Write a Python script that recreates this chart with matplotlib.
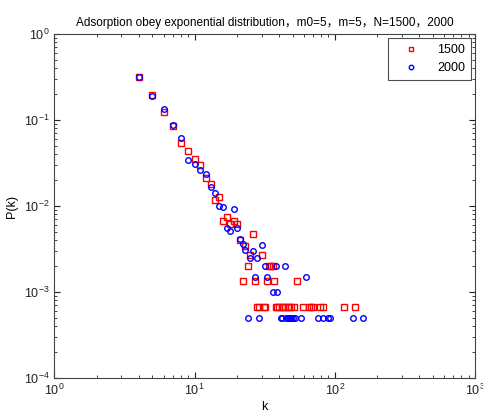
import matplotlib
matplotlib.use("Agg")
import matplotlib.pyplot as plt

plt.rcParams['font.family'] = ['Liberation Sans', 'Noto Sans CJK SC', 'DejaVu Sans']
plt.rcParams['mathtext.fontset'] = 'custom'
plt.rcParams['mathtext.rm'] = 'Liberation Sans'

# degree distribution, N=1500 (red squares)
k_1500 = [4, 5, 6, 7, 8, 9, 10, 11, 12, 13, 14, 15, 16, 17, 18, 19, 20,
          21, 22, 23, 24, 25, 26, 27, 30, 33, 34, 35, 36, 37, 54,
          28, 29, 31, 32, 38, 39, 40, 42, 43, 44, 46, 47, 49, 51,
          59, 65, 68, 70, 79, 83, 117, 140]
p_1500 = [0.32, 0.193, 0.125, 0.086, 0.0536, 0.0436, 0.0349, 0.030, 0.021,
          0.0179, 0.0117, 0.0128, 0.00675, 0.0075, 0.0062, 0.00675, 0.0062,
          0.004, 0.00133, 0.0034, 0.002, 0.00267, 0.00467, 0.00133, 0.00267,
          0.00133, 0.002, 0.002, 0.002, 0.00133, 0.00133,
          0.000667, 0.000667, 0.000667, 0.000667, 0.000667, 0.000667,
          0.000667, 0.000667, 0.000667, 0.000667, 0.000667, 0.000667,
          0.000667, 0.000667, 0.000667, 0.000667, 0.000667, 0.000667,
          0.000667, 0.000667, 0.000667, 0.000667]

# degree distribution, N=2000 (blue circles)
k_2000 = [4, 5, 6, 7, 8, 9, 10, 11, 12, 13, 14, 15, 16, 17, 18, 19, 20,
          21, 22, 23, 25, 26, 28, 30, 32, 38, 44, 27, 33, 62, 36, 39,
          24, 29, 41, 42, 45, 46, 47, 48, 49, 50, 52, 57, 76, 83, 90, 92,
          134, 160]
p_2000 = [0.32, 0.19, 0.133, 0.0867, 0.0623, 0.034, 0.0305, 0.026, 0.0235,
          0.0168, 0.0141, 0.0101, 0.0098, 0.0056, 0.0051, 0.0093, 0.0056,
          0.0041, 0.0036, 0.0031, 0.0025, 0.003, 0.0025, 0.0035, 0.002,
          0.002, 0.002, 0.0015, 0.0015, 0.0015, 0.001, 0.001,
          0.0005, 0.0005, 0.0005, 0.0005, 0.0005, 0.0005, 0.0005, 0.0005,
          0.0005, 0.0005, 0.0005, 0.0005, 0.0005, 0.0005, 0.0005, 0.0005,
          0.0005, 0.0005]

fig = plt.figure(figsize=(4.83, 4.16), dpi=100)
ax = fig.add_axes([0.1128, 0.0913, 0.8706, 0.827])

ax.loglog(k_1500, p_1500, 's', mfc='none', mec='#ff0000', ms=4, mew=1.0, label='1500')
ax.loglog(k_2000, p_2000, 'o', mfc='none', mec='#0000ff', ms=4, mew=1.0, label='2000')

ax.set_xlim(1, 1000)
ax.set_ylim(1e-4, 1)
ax.tick_params(which='both', direction='in', top=True, right=True, labelsize=9, colors='#222222')
ax.tick_params(which='major', length=4)
ax.tick_params(which='minor', length=2)
for s in ax.spines.values():
    s.set_color('#444444')

ax.set_xlabel('k', fontsize=9, labelpad=2)
ax.set_ylabel('P(k)', fontsize=9, labelpad=4)
ax.set_title('Adsorption obey exponential distribution，m0=5，m=5，N=1500，2000',
             fontsize=8.5, pad=6)

leg = ax.legend(loc='upper right', fontsize=9, frameon=True, fancybox=False,
                markerfirst=True, handlelength=2.6, handletextpad=0.8, borderpad=0.5,
                borderaxespad=0.3, markerscale=0.8)
leg.get_frame().set_edgecolor('#222222')
leg.get_frame().set_linewidth(0.8)

fig.savefig('out.png', dpi=100)
